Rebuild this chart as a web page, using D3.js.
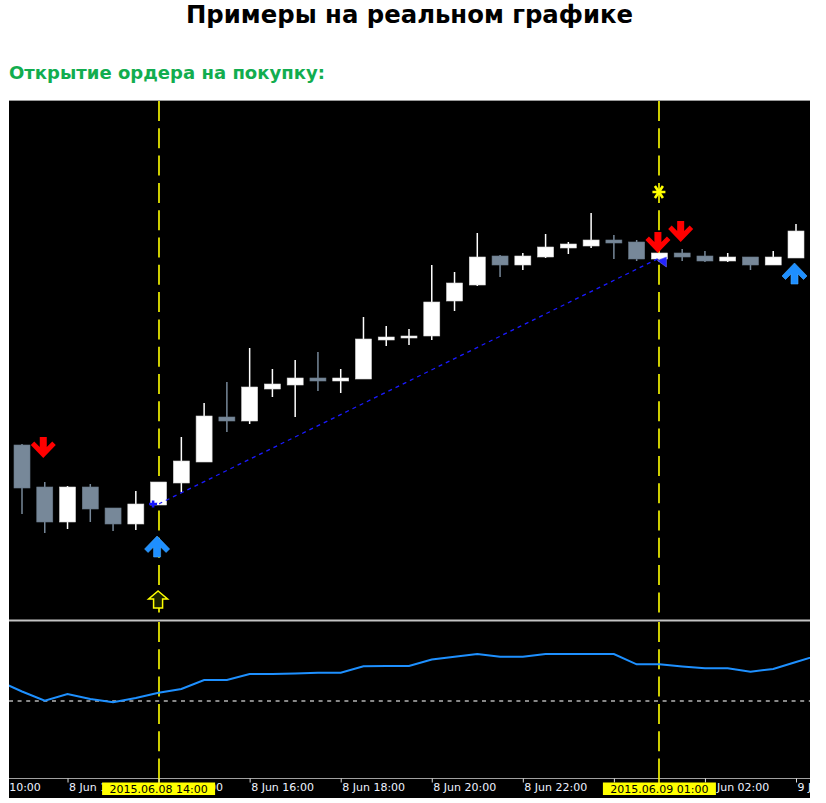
<!DOCTYPE html>
<html><head><meta charset="utf-8">
<script src="https://cdn.jsdelivr.net/npm/d3@7"></script>
<style>body{margin:0;background:#fff}svg{display:block}</style>
</head><body><svg id="c" width="826" height="803"></svg>
<script>
// ---- data ----
const barTimes = ["2015-06-08 11:00","2015-06-08 11:30","2015-06-08 12:00","2015-06-08 12:30","2015-06-08 13:00","2015-06-08 13:30","2015-06-08 14:00","2015-06-08 14:30","2015-06-08 15:00","2015-06-08 15:30","2015-06-08 16:00","2015-06-08 16:30","2015-06-08 17:00","2015-06-08 17:30","2015-06-08 18:00","2015-06-08 18:30","2015-06-08 19:00","2015-06-08 19:30","2015-06-08 20:00","2015-06-08 20:30","2015-06-08 21:00","2015-06-08 21:30","2015-06-08 22:00","2015-06-08 22:30","2015-06-08 23:00","2015-06-08 23:30","2015-06-09 00:00","2015-06-09 00:30","2015-06-09 01:00","2015-06-09 01:30","2015-06-09 02:00","2015-06-09 02:30","2015-06-09 03:00","2015-06-09 03:30","2015-06-09 04:00"];
const opens  = [1.1155,1.1113,1.1078,1.1113,1.1092,1.1076,1.1095,1.1117,1.1138,1.1183,1.1179,1.1211,1.1215,1.1222,1.1219,1.1221,1.1260,1.1262,1.1264,1.1299,1.1315,1.1344,1.1335,1.1343,1.1352,1.1354,1.1360,1.1358,1.1341,1.1347,1.1344,1.1339,1.1343,1.1335,1.1342];
const highs  = [1.1156,1.1118,1.1114,1.1116,1.1092,1.1109,1.1118,1.1163,1.1197,1.1218,1.1252,1.1231,1.1240,1.1248,1.1231,1.1283,1.1274,1.1271,1.1335,1.1328,1.1367,1.1345,1.1347,1.1366,1.1358,1.1387,1.1365,1.1360,1.1347,1.1351,1.1349,1.1347,1.1343,1.1349,1.1376];
const lows   = [1.1086,1.1067,1.1071,1.1078,1.1069,1.1070,1.1095,1.1108,1.1138,1.1168,1.1176,1.1203,1.1183,1.1209,1.1207,1.1221,1.1254,1.1255,1.1260,1.1289,1.1314,1.1323,1.1330,1.1342,1.1346,1.1352,1.1341,1.1339,1.1338,1.1339,1.1338,1.1338,1.1330,1.1335,1.1342];
const closes = [1.1112,1.1078,1.1113,1.1091,1.1076,1.1096,1.1118,1.1139,1.1184,1.1179,1.1213,1.1216,1.1222,1.1219,1.1222,1.1261,1.1263,1.1264,1.1298,1.1317,1.1343,1.1335,1.1344,1.1353,1.1356,1.1360,1.1357,1.1341,1.1347,1.1343,1.1339,1.1343,1.1335,1.1343,1.1369];

const indTimes = ["2015-06-08 10:30"].concat(barTimes).concat(["2015-06-09 04:30"]);
const indValues = [19.7,9.5,0.3,7,2,-1.3,3,8.3,12,21,21,27,27,27.5,28.3,28.3,34.7,35,35,41.5,44.3,47,44.3,44.3,47,47,47,47,36.7,36.7,34.5,32.7,32.7,29.3,32,39,46];
const indLevel = 0;

const tickTimes = ["2015-06-08 10:00","2015-06-08 12:00","2015-06-08 14:00","2015-06-08 16:00","2015-06-08 18:00","2015-06-08 20:00","2015-06-08 22:00","2015-06-09 00:00","2015-06-09 02:00","2015-06-09 04:00"];
const vlineTimes = ["2015-06-08 14:00","2015-06-09 01:00"];
const vlineLabels = ["2015.06.08 14:00","2015.06.09 01:00"];

const sellTimes = ["2015-06-08 11:30","2015-06-09 01:00","2015-06-09 01:30"];
const sellPrices = [1.1142,1.1347,1.1358];
const buyTimes = ["2015-06-08 14:00","2015-06-09 04:00"];
const buyPrices = [1.1064,1.1337];
const hollowTimes = ["2015-06-08 14:00"];
const hollowPrices = [1.1009];
const starTimes = ["2015-06-09 01:00"];
const starPrices = [1.1408];
const orderTimes = ["2015-06-08 14:00","2015-06-09 01:00"];
const orderPrices = [1.1096,1.1342];

const titleText = "Примеры на реальном графике";
const subtitleText = "Открытие ордера на покупку:";

// ---- setup ----
const parse = d3.utcParse("%Y-%m-%d %H:%M");
const svg = d3.select("#c");
const L = 9, R = 810, T = 100, MB = 619, IT = 622, IB = 778, B = 798;

svg.append("rect").attr("width",826).attr("height",803).attr("fill","#fff");
svg.append("text").attr("x",409.5).attr("y",23).attr("text-anchor","middle")
  .attr("font-family","DejaVu Sans, Verdana, sans-serif").attr("font-weight","bold")
  .attr("font-size",25).attr("textLength",447).attr("lengthAdjust","spacingAndGlyphs")
  .attr("fill","#000").text(titleText);
svg.append("text").attr("x",9).attr("y",78.5)
  .attr("font-family","DejaVu Sans, Verdana, sans-serif").attr("font-weight","bold")
  .attr("font-size",17.5).attr("textLength",316).attr("lengthAdjust","spacingAndGlyphs")
  .attr("fill","#12ad4f").text(subtitleText);

// frame
svg.append("rect").attr("x",L).attr("y",T).attr("width",R-L).attr("height",B-T).attr("fill","#000");
svg.append("line").attr("x1",L).attr("x2",R).attr("y1",T+0.5).attr("y2",T+0.5).attr("stroke","#9a9a9a");
svg.append("rect").attr("x",L).attr("y",MB+0.5).attr("width",R-L).attr("height",2).attr("fill","#c4c4c4");
svg.append("line").attr("x1",L).attr("x2",R).attr("y1",IB+0.5).attr("y2",IB+0.5).attr("stroke","#a0a0a0");

const defs = svg.append("defs");
defs.append("clipPath").attr("id","cm").append("rect").attr("x",L).attr("y",T+1).attr("width",R-L).attr("height",MB-T-1);
defs.append("clipPath").attr("id","ci").append("rect").attr("x",L).attr("y",IT).attr("width",R-L).attr("height",IB-IT);
defs.append("clipPath").attr("id","ca").append("rect").attr("x",L).attr("y",IB).attr("width",R-L).attr("height",B-IB);

// scales
const x = d3.scaleUtc().domain([parse(barTimes[0]), parse(barTimes[barTimes.length-1])]).range([22,796]);
const y = d3.scaleLinear().domain([1.0982,1.1500]).range([618,100]);
const yi = d3.scaleLinear().domain([-75,79]).range([776,622]);

const bars = barTimes.map((t,i)=>({t:parse(t),o:opens[i],h:highs[i],l:lows[i],c:closes[i]}));
const main = svg.append("g").attr("clip-path","url(#cm)");
const ind = svg.append("g").attr("clip-path","url(#ci)");
const axg = svg.append("g").attr("clip-path","url(#ca)");

const bullCol = "#ffffff", bearCol = "#778899";

// vertical yellow dashed lines
vlineTimes.forEach(t=>{
  const vx = Math.round(x(parse(t)))+0.0;
  main.append("line").attr("x1",vx).attr("x2",vx).attr("y1",T+1).attr("y2",MB)
    .attr("stroke","#ffff00").attr("stroke-width",1.6).attr("stroke-dasharray","20,7.3");
  ind.append("line").attr("x1",vx).attr("x2",vx).attr("y1",IT).attr("y2",IB)
    .attr("stroke","#ffff00").attr("stroke-width",1.6).attr("stroke-dasharray","20,7.3");
  axg.append("line").attr("x1",vx).attr("x2",vx).attr("y1",IB).attr("y2",IB+5)
    .attr("stroke","#ffff00").attr("stroke-width",1.6);
});

// order line
const o0 = {x:x(parse(orderTimes[0])), y:y(orderPrices[0])};
const o1 = {x:x(parse(orderTimes[1])), y:y(orderPrices[1])};

// candles
const cg = main.append("g");
cg.selectAll("line.w").data(bars).join("line").attr("class","w")
  .attr("x1",d=>x(d.t)).attr("x2",d=>x(d.t)).attr("y1",d=>y(d.h)).attr("y2",d=>y(d.l))
  .attr("stroke",d=>d.c>=d.o?bullCol:bearCol).attr("stroke-width",1.5);
cg.selectAll("rect.b").data(bars).join("rect").attr("class","b")
  .attr("x",d=>x(d.t)-8).attr("width",16)
  .attr("y",d=>y(Math.max(d.o,d.c)))
  .attr("height",d=>Math.max(2,Math.abs(y(d.o)-y(d.c))))
  .attr("fill",d=>d.c>=d.o?bullCol:bearCol)
  .attr("stroke",d=>d.c>=d.o?"#d8d8d8":"#6a7a8a").attr("stroke-width",0.6);

main.append("line").attr("x1",o0.x).attr("y1",o0.y).attr("x2",o1.x).attr("y2",o1.y)
  .attr("stroke","#1a1aff").attr("stroke-width",1.3).attr("stroke-dasharray","4,4");

// open marker
main.append("path").attr("transform",`translate(${o0.x-5},${o0.y})`)
  .attr("d","M-4.5,0 L4,0 M-0.5,-3.5 L-0.5,3.5").attr("stroke","#1414ff").attr("stroke-width",2.6).attr("fill","none");
main.append("rect").attr("x",o0.x-1.5).attr("y",o0.y-1).attr("width",2).attr("height",2).attr("fill","#fff");
// close marker
main.append("path").attr("transform",`translate(${o1.x},${o1.y})`)
  .attr("d","M-2,2.5 L7,-1 L7,9 Z").attr("fill","#2424ff").attr("stroke","#6a6aff").attr("stroke-width",0.6);

// arrows
const downPts = [[-3.5,-21],[3.5,-21],[3.5,-11],[9,-16.5],[12.5,-13],[0,0],[-12.5,-13],[-9,-16.5],[-3.5,-11]];
const downPath = "M" + downPts.map(p=>p.join(",")).join("L") + "Z";
const upPath = "M" + downPts.map(p=>[p[0],-p[1]].join(",")).join("L") + "Z";
sellTimes.forEach((t,i)=>{
  main.append("path").attr("transform",`translate(${x(parse(t))-1.5},${y(sellPrices[i])})`)
    .attr("d",downPath).attr("fill","#ff0000");
});
buyTimes.forEach((t,i)=>{
  main.append("path").attr("transform",`translate(${x(parse(t))-1.5},${y(buyPrices[i])})`)
    .attr("d",upPath).attr("fill","#1e8fff").attr("stroke","#46aaff").attr("stroke-width",0.6);
});
hollowTimes.forEach((t,i)=>{
  main.append("path").attr("transform",`translate(${x(parse(t))-0.5},${y(hollowPrices[i])})`)
    .attr("d","M0,0 L9.5,8 L4.5,8 L4.5,17 L-4.5,17 L-4.5,8 L-9.5,8 Z")
    .attr("fill","#1a2200").attr("stroke","#ffff00").attr("stroke-width",1.5);
});
starTimes.forEach((t,i)=>{
  main.append("path").attr("transform",`translate(${x(parse(t))-0.5},${y(starPrices[i])})`)
    .attr("d","M-6.5,0 L6.5,0 M-4,-6 L4,6 M-4,6 L4,-6")
    .attr("stroke","#ffff00").attr("stroke-width",2.6).attr("fill","none");
});

// indicator
ind.append("line").attr("x1",L).attr("x2",R).attr("y1",yi(indLevel)).attr("y2",yi(indLevel))
  .attr("stroke","#b4b4b4").attr("stroke-width",1.6).attr("stroke-dasharray","4,4.6");
const indData = indTimes.map((t,i)=>({t:parse(t),v:indValues[i]}));
ind.append("path").datum(indData)
  .attr("d",d3.line().x(d=>x(d.t)).y(d=>yi(d.v)))
  .attr("fill","none").attr("stroke","#1e90ff").attr("stroke-width",2);

// axis
const fmt = d3.utcFormat("%-d %b %H:%M");
const axis = d3.axisBottom(x).tickValues(tickTimes.map(parse)).tickFormat(fmt).tickSizeInner(4).tickSizeOuter(0).tickPadding(3);
const ag = axg.append("g").attr("transform",`translate(0,${IB+0.5})`).call(axis);
ag.select(".domain").remove();
ag.selectAll(".tick line").attr("stroke","#e0e0e0");
ag.selectAll(".tick text").attr("text-anchor","start").attr("dx",1).attr("fill","#eef2ff")
  .attr("font-family","DejaVu Sans, Verdana, sans-serif").attr("font-size",11).attr("y",5).attr("dy","0.71em");

// yellow vline labels
vlineTimes.forEach((t,i)=>{
  const vx = x(parse(t));
  axg.append("rect").attr("x",vx-56.5).attr("y",782.5).attr("width",113).attr("height",12.5).attr("fill","#ffff00");
  axg.append("text").attr("x",vx).attr("y",792.8).attr("text-anchor","middle")
    .attr("font-family","DejaVu Sans, Verdana, sans-serif").attr("font-size",11).attr("fill","#000")
    .text(vlineLabels[i]);
});
</script></body></html>
